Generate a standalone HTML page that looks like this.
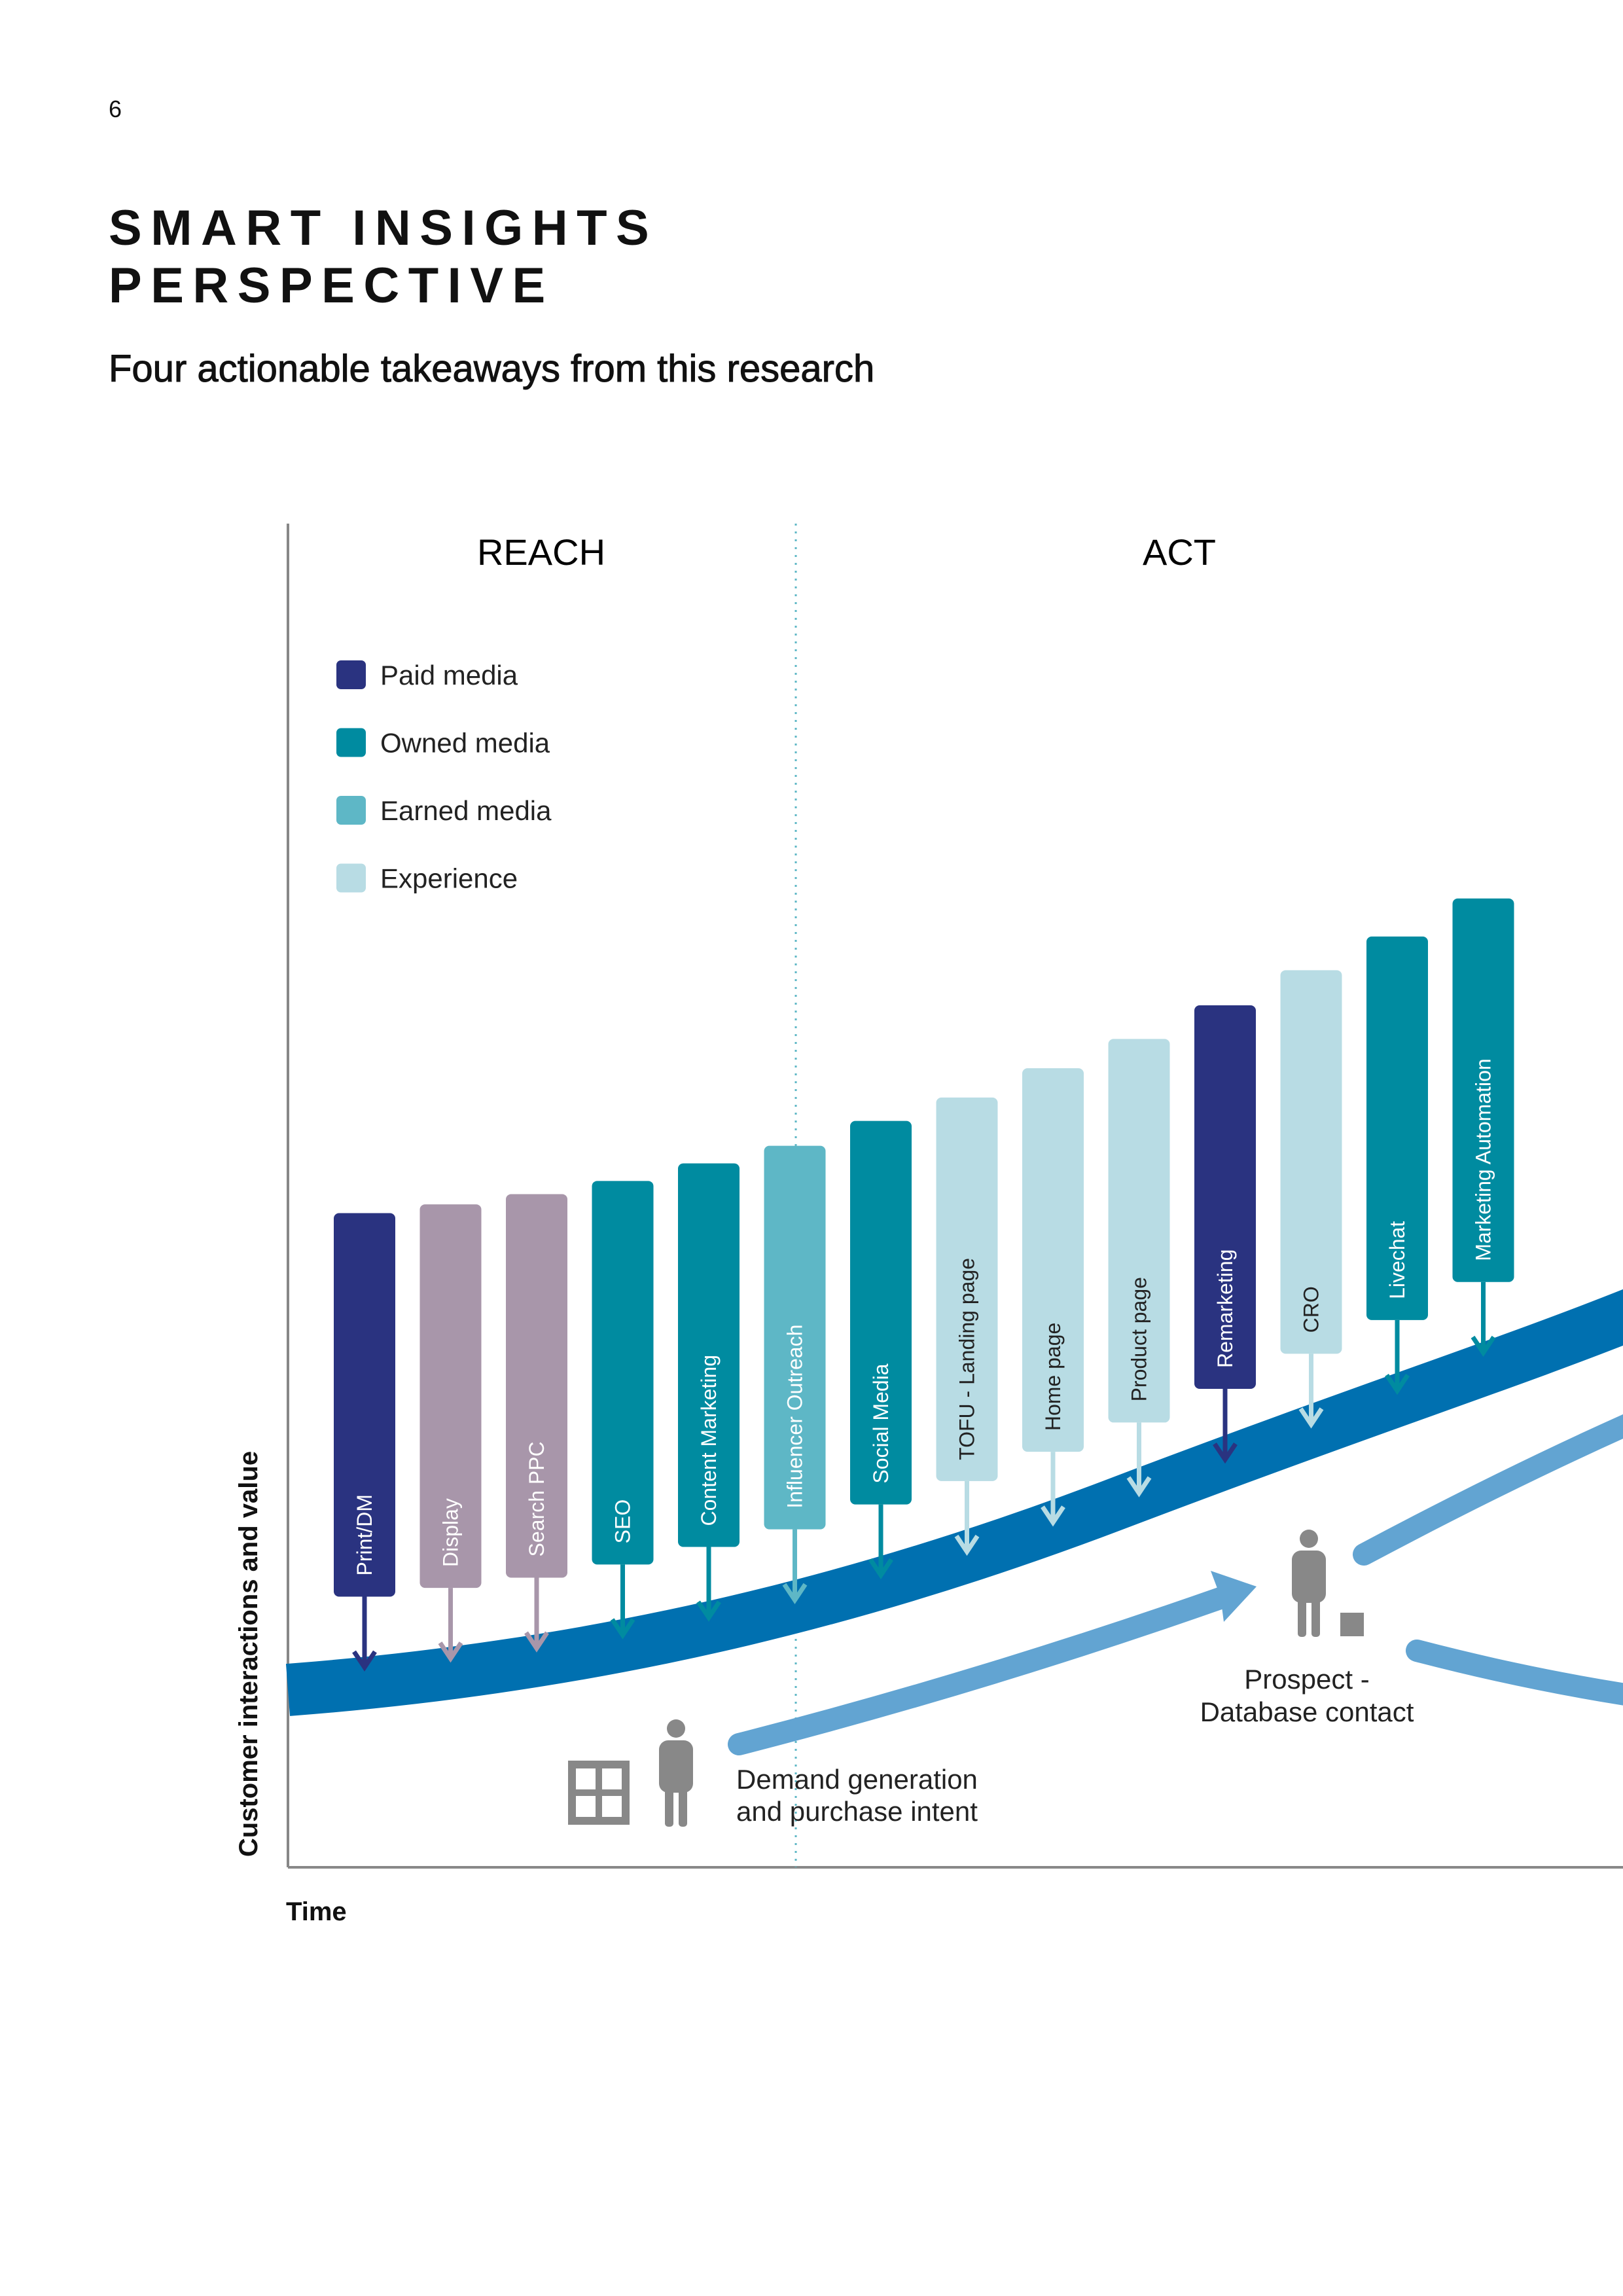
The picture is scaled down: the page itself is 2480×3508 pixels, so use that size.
<!DOCTYPE html>
<html><head><meta charset="utf-8">
<style>
html,body{margin:0;padding:0;background:#fff;}
body{width:2480px;height:3508px;position:relative;overflow:hidden;font-family:"Liberation Sans",sans-serif;color:#111;}
.abs{position:absolute;white-space:nowrap;}
</style></head>
<body>
<div class="abs" style="left:166px;top:146px;font-size:36px;">6</div>
<div class="abs" style="left:166px;top:305px;font-size:76px;font-weight:bold;letter-spacing:13.5px;line-height:88px;">SMART INSIGHTS<br>PERSPECTIVE</div>
<div class="abs" style="left:166px;top:530px;font-size:58px;-webkit-text-stroke:1px #111;">Four actionable takeaways from this research</div>

<svg id="chart" width="2480" height="3508" style="position:absolute;left:0;top:0" xmlns="http://www.w3.org/2000/svg">
</svg>

<script>
const categories=["Print/DM","Display","Search PPC","SEO","Content Marketing","Influencer Outreach","Social Media","TOFU - Landing page","Home page","Product page","Remarketing","CRO","Livechat","Marketing Automation"];
const mediaTypes=["paid","other","other","owned","owned","earned","owned","exp","exp","exp","paid","exp","owned","owned"];
const values=[447,453,460,469,481,493,510,526,546,566,589,613,636,662];
const legendLabels=["Paid media","Owned media","Earned media","Experience"];
const legendKeys=["paid","owned","earned","exp"];

const NS="http://www.w3.org/2000/svg";
const svg=document.getElementById("chart");
const colors={paid:"#2a3380",owned:"#008ba0",earned:"#5eb7c6",exp:"#b8dce4",other:"#a896aa"};
const textCol={paid:"#fff",owned:"#fff",earned:"#fff",exp:"#222",other:"#fff"};
function mk(tag,attrs,parent){const e=document.createElementNS(NS,tag);for(const k in attrs)e.setAttribute(k,attrs[k]);(parent||svg).appendChild(e);return e;}
const S=2.236;
function yScale(v){return 2853-v*S;}
function xScale(i){return 510+i*131.5;}
const barW=94, barH=586;

let ax=mk("line",{x1:440,y1:800,x2:440,y2:2853,stroke:"#888","stroke-width":4});


ax=mk("line",{x1:440,y1:2853,x2:2480,y2:2853,stroke:"#888","stroke-width":4});


let dl=mk("line",{x1:1216,y1:800,x2:1216,y2:2853,stroke:"#5eb7c6","stroke-width":3,"stroke-dasharray":"3 9"});



let t=mk("text",{x:827,y:863,"font-size":56,"text-anchor":"middle","font-family":"Liberation Sans, sans-serif"});t.textContent="REACH";


t=mk("text",{x:1802,y:863,"font-size":56,"text-anchor":"middle","font-family":"Liberation Sans, sans-serif"});t.textContent="ACT";



legendLabels.forEach((l,i)=>{
  const y=1031+i*103.5;
  const g=mk("g",{});
  
  
  mk("rect",{x:514,y:y-22,width:45,height:44,rx:7,fill:colors[legendKeys[i]]},g);
  const tx=mk("text",{x:581,y:y+15,"font-size":42,"font-family":"Liberation Sans, sans-serif",fill:"#222"},g);tx.textContent=l;
});

let band=mk("path",{d:"M440,2582 C900,2547 1300,2452 1700,2300 S2300,2085 2500,2005",fill:"none",stroke:"#0070b0","stroke-width":80});



const lb="#62a4d2";
let a1=mk("path",{d:"M1129,2665 Q1500,2570 1870,2440",fill:"none",stroke:lb,"stroke-width":34,"stroke-linecap":"round"});


let ah=mk("polygon",{points:"1920,2424 1850,2400 1865,2440 1870,2478",fill:lb});


let a2=mk("path",{d:"M2084,2375 Q2300,2260 2490,2175",fill:"none",stroke:lb,"stroke-width":34,"stroke-linecap":"round"});


let a3=mk("path",{d:"M2165,2522 Q2330,2565 2490,2590",fill:"none",stroke:lb,"stroke-width":34,"stroke-linecap":"round"});



categories.forEach((c,i)=>{
  const x=xScale(i), top=yScale(values[i]), bot=top+barH, cx=x+barW/2;
  const col=colors[mediaTypes[i]];
  const g=mk("g",{});
  
  
  mk("rect",{x:x,y:top,width:barW,height:barH,rx:8,fill:col},g);
  const tip=bot+108;
  mk("line",{x1:cx,y1:bot,x2:cx,y2:tip-4,stroke:col,"stroke-width":7},g);
  mk("polyline",{points:`${cx-16},${tip-24} ${cx},${tip} ${cx+16},${tip-24}`,fill:"none",stroke:col,"stroke-width":7},g);
  const tx=mk("text",{x:cx+11,y:bot-32,"font-size":32,"font-family":"Liberation Sans, sans-serif",fill:textCol[mediaTypes[i]],transform:`rotate(-90 ${cx+11} ${bot-32})`},g);
  tx.textContent=c;
});

const gray="#888";
function person(x,y,name){
  const g=mk("g",{});
  
  
  mk("circle",{cx:x,cy:y+14,r:14,fill:gray},g);
  mk("rect",{x:x-26,y:y+32,width:52,height:80,rx:14,fill:gray},g);
  mk("rect",{x:x-17,y:y+100,width:13,height:64,rx:5,fill:gray},g);
  mk("rect",{x:x+4,y:y+100,width:13,height:64,rx:5,fill:gray},g);
}
person(1033,2627,'person-icon-demand');
person(2000,2337,'person-icon-prospect');
let win=mk("g",{});


mk("rect",{x:868,y:2690,width:94,height:98,fill:gray},win);
mk("rect",{x:880,y:2702,width:30,height:32,fill:"#fff"},win);
mk("rect",{x:920,y:2702,width:30,height:32,fill:"#fff"},win);
mk("rect",{x:880,y:2744,width:30,height:32,fill:"#fff"},win);
mk("rect",{x:920,y:2744,width:30,height:32,fill:"#fff"},win);
let sq=mk("rect",{x:2048,y:2464,width:36,height:36,fill:gray});



function txt(s,x,y,anchor,name){const e=mk("text",{x:x,y:y,"font-size":42,"text-anchor":anchor,"font-family":"Liberation Sans, sans-serif",fill:"#222"});e.textContent=s;

}
txt("Demand generation",1125,2733,"start","demand-label");
txt("and purchase intent",1125,2782,"start","demand-label-2");
txt("Prospect  -",1997,2580,"middle","prospect-label");
txt("Database contact",1997,2630,"middle","prospect-label-2");

let yt=mk("text",{x:0,y:0,"font-size":40,"font-weight":"bold","text-anchor":"middle","font-family":"Liberation Sans, sans-serif",fill:"#111",transform:"translate(393 2527) rotate(-90)"});
yt.textContent="Customer interactions and value";


let xt=mk("text",{x:437,y:2934,"font-size":40,"font-weight":"bold","font-family":"Liberation Sans, sans-serif",fill:"#111"});
xt.textContent="Time";


</script>
</body></html>
